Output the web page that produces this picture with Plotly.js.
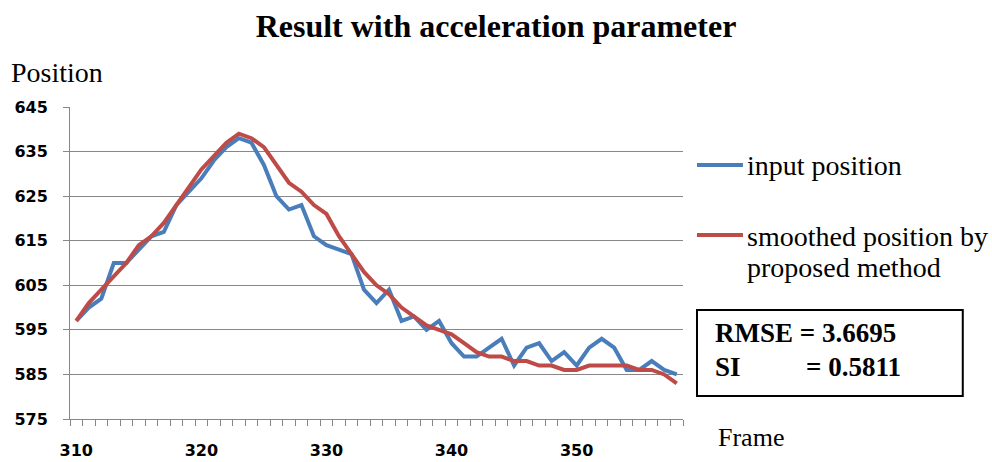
<!DOCTYPE html>
<html>
<head>
<meta charset="utf-8">
<script src="https://cdn.plot.ly/plotly-3.0.1.min.js"></script>
<style>html,body{margin:0;padding:0;background:#fff;}#chart{width:992px;height:462px;}</style>
</head>
<body>
<div id="chart"></div>
<script>
const frames = [310,311,312,313,314,315,316,317,318,319,320,321,322,323,324,325,326,327,328,329,330,331,332,333,334,335,336,337,338,339,340,341,342,343,344,345,346,347,348,349,350,351,352,353,354,355,356,357,358];
const inputPosition = [597,600,602,610,610,613,616,617,623,626,629,633,636,638,637,632,625,622,623,616,614,613,612,604,601,604,597,598,595,597,592,589,589,591,593,587,591,592,588,590,587,591,593,591,586,586,588,586,585];
const smoothedPosition = [597,601,604,607,610,614,616,619,623,627,631,634,637,639,638,636,632,628,626,623,621,616,612,608,605,603,600,598,596,595,594,592,590,589,589,588,588,587,587,586,586,587,587,587,587,586,586,585,583];
const xTickVals = [310,320,330,340,350];
const yTickVals = [575,585,595,605,615,625,635,645];
const seriesNames = ['input position','smoothed position by','proposed method'];
const seriesColors = ['#4a7ebb','#be4b48'];
const statLabels = ['RMSE','SI'];
const statValues = ['= 3.6695','= 0.5811'];

const serif = 'Liberation Serif, serif';
const sans = 'DejaVu Sans';
const gray = '#878787';

const traces = [
  {x: frames, y: inputPosition, type:'scatter', mode:'lines', name: seriesNames[0],
   line:{color: seriesColors[0], width:4}},
  {x: frames, y: smoothedPosition, type:'scatter', mode:'lines', name: seriesNames[1] + ' ' + seriesNames[2],
   line:{color: seriesColors[1], width:4}}
];

const L = 69.5, R = 683, T = 107, B = 419;
const pw = R - L, ph = B - T;
function px(x){ return (x - L)/pw; }
function py(y){ return (B - y)/ph; }

function note(text, x, y, anchor, size){
  return {text: text, xref:'paper', yref:'paper', x: px(x), y: py(y), xanchor: anchor, yanchor:'middle',
          showarrow:false, font:{family: serif, size: size, color:'#000'}};
}

const layout = {
  width: 992, height: 462,
  font: {family: serif, color:'#000'},
  margin: {l: L, r: 992 - R, t: T, b: 462 - B, pad: 0},
  paper_bgcolor: '#fff', plot_bgcolor: '#fff',
  showlegend: false,
  title: {text: '<b>Result with acceleration parameter</b>', font:{family: serif, size: 32, color:'#000'},
          x: 0.5, xref:'container', xanchor:'center', y: 1 - 26/462, yref:'container', yanchor:'middle'},
  xaxis: {
    range: [309.5, 358.5], tickmode:'array', tickvals: xTickVals,
    ticks:'outside', ticklen: 17, tickcolor:'rgba(0,0,0,0)',
    tickfont:{family: sans, size: 16, color:'#000', weight:'bold'},
    showline: true, linecolor: gray, linewidth: 1, showgrid: false, zeroline: false,
    minor: {tickmode:'linear', tick0: 309.5, dtick: 1, ticks:'outside', ticklen: 6, tickcolor: gray, showgrid:false}
  },
  yaxis: {
    range: [575, 645], tickmode:'array', tickvals: yTickVals,
    ticks:'outside', ticklen: 6, tickcolor: gray,
    tickfont:{family: sans, size: 16, color:'#000', weight:'bold'},
    ticklabelstandoff: 12,
    showline: true, linecolor: gray, linewidth: 1, showgrid: true, gridcolor: gray, gridwidth: 1, zeroline: false
  },
  annotations: [
    note('Position', 8, 73, 'left', 28),
    note('Frame', 716, 437, 'left', 26),
    note(seriesNames[0], 745, 165, 'left', 28),
    note(seriesNames[1], 745, 236, 'left', 28),
    note(seriesNames[2], 745, 267, 'left', 28),
    note('<b>'+statLabels[0]+' '+statValues[0]+'</b>', 713, 333, 'left', 27),
    note('<b>'+statLabels[1]+'</b>', 713, 367, 'left', 27),
    note('<b>'+statValues[1]+'</b>', 903, 367, 'right', 27)
  ],
  shapes: [
    {type:'line', xref:'paper', yref:'paper', x0: px(697), x1: px(743), y0: py(165), y1: py(165),
     line:{color: seriesColors[0], width:4}},
    {type:'line', xref:'paper', yref:'paper', x0: px(697), x1: px(743), y0: py(235), y1: py(235),
     line:{color: seriesColors[1], width:4}},
    {type:'rect', xref:'paper', yref:'paper', x0: px(697), x1: px(963), y0: py(310), y1: py(396),
     line:{color:'#000', width:2}, fillcolor:'rgba(0,0,0,0)'}
  ]
};

Plotly.newPlot('chart', traces, layout, {displayModeBar:false, staticPlot:true});
</script>
</body>
</html>
